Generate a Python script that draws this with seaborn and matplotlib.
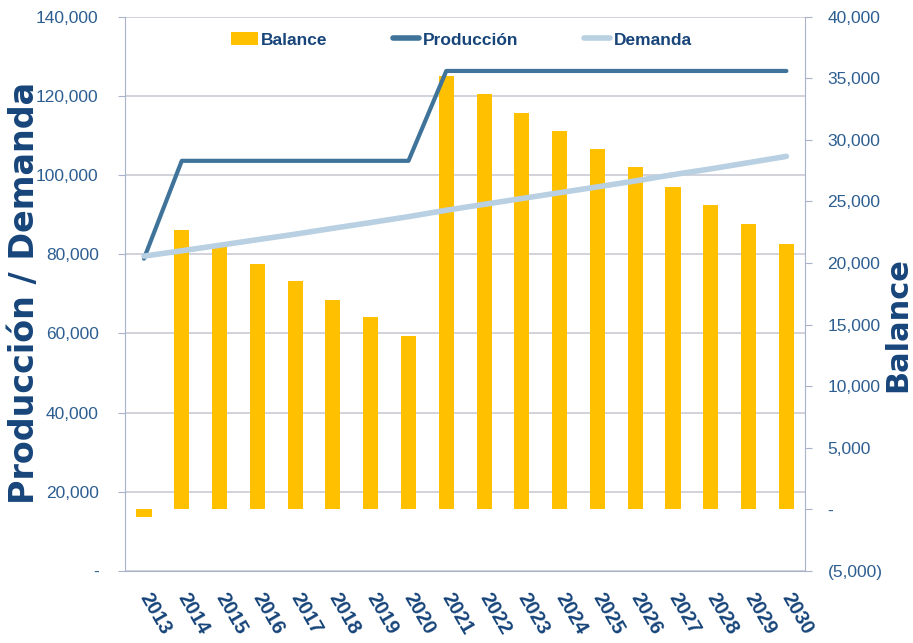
'''Producción / Demanda / Balance chart'''

### IMPORTS ###

import numpy as np
import matplotlib.pyplot as plt
import seaborn as sns
from matplotlib.ticker import FuncFormatter
from matplotlib.patches import Patch
from matplotlib.lines import Line2D

### DATA ###

years = ['2013', '2014', '2015', '2016', '2017', '2018', '2019', '2020', '2021',
         '2022', '2023', '2024', '2025', '2026', '2027', '2028', '2029', '2030']
balance = [-630, 22720, 21330, 19920, 18530, 17040, 15590, 14100, 35180,
           33690, 32220, 30750, 29280, 27780, 26200, 24730, 23160, 21580]
produccion = [78900, 103600, 103600, 103600, 103600, 103600, 103600, 103600, 126300,
              126300, 126300, 126300, 126300, 126300, 126300, 126300, 126300, 126300]
demanda = [79530, 80880, 82270, 83680, 85070, 86560, 88010, 89500, 91120,
           92610, 94080, 95550, 97020, 98520, 100100, 101570, 103140, 104720]

### STYLE ###

sns.set_style('white')
plt.rcParams['font.family'] = ['Liberation Sans', 'DejaVu Sans']

BAR = '#FFC000'
PROD = '#3F7399'
DEM = '#B8D0E2'
GRID = '#C9CBD4'
SPINE = '#A8B2CA'
TICK = '#2D5E91'
TITLE = '#17457A'

def left_fmt(v, p):
    return '-' if v == 0 else f'{v:,.0f}'

def right_fmt(v, p):
    if v == 0:
        return '-'
    if v < 0:
        return f'({-v:,.0f})'
    return f'{v:,.0f}'

### PLOT ###

fig = plt.figure(figsize=(9.13, 6.43), dpi=100)
ax = fig.add_axes([0.137, 0.112, 0.745, 0.862])
ax2 = ax.twinx()
ax3 = ax.twinx()
ax.set_zorder(0)
ax2.set_zorder(1)
ax3.set_zorder(2)
ax2.patch.set_visible(False)
ax3.patch.set_visible(False)

x = np.arange(len(years))

# bars on the right scale
sns.barplot(x=years, y=balance, color=BAR, saturation=1, width=0.4,
            edgecolor='none', ax=ax2)

# lines on the left scale
sns.lineplot(x=x, y=produccion, color=PROD, linewidth=3, ax=ax3)
sns.lineplot(x=x, y=demanda, color=DEM, linewidth=4, ax=ax3)

# left axis
ax.set_ylim(0, 140000)
ax.set_yticks(np.arange(0, 140001, 20000))
ax.yaxis.set_major_formatter(FuncFormatter(left_fmt))
ax.grid(axis='y', color=GRID, linewidth=1.2)
ax.tick_params(axis='y', length=5, color=SPINE, pad=14, labelsize=12.5, labelcolor=TICK)

# right axis
ax2.set_ylim(-5000, 40000)
ax2.set_yticks(np.arange(-5000, 40001, 5000))
ax2.yaxis.set_major_formatter(FuncFormatter(right_fmt))
ax2.tick_params(axis='y', length=5, color=SPINE, pad=11, labelsize=12.5, labelcolor=TICK)
ax2.set_ylabel('')
ax2.set_xlabel('')

ax3.set_ylim(0, 140000)
ax3.yaxis.set_visible(False)

# x axis
for a in (ax, ax2, ax3):
    a.set_xlim(-0.5, len(years) - 0.5)
ax.set_xticks(np.arange(-0.5, len(years), 1))
ax.set_xticklabels([])
ax.set_xticks(x, minor=True)
ax.set_xticklabels(years, minor=True, rotation=-60, ha='left', va='center',
                   rotation_mode='anchor', fontweight='bold', fontsize=14.5, color=TITLE)
ax.tick_params(axis='x', which='major', length=6, color=SPINE)
ax.tick_params(axis='x', which='minor', length=0, pad=17)

for a in (ax, ax2, ax3):
    for s in a.spines.values():
        s.set_visible(False)
ax.spines['left'].set_visible(True)
ax.spines['bottom'].set_visible(True)
ax2.spines['right'].set_visible(True)
for s in ('left', 'bottom'):
    ax.spines[s].set_color(SPINE)
ax2.spines['right'].set_color(SPINE)

# axis titles
fig.text(0.027, 0.544, 'Producción / Demanda', rotation=90, ha='center', va='center',
         fontsize=24, fontweight='bold', color=TITLE, family='DejaVu Sans')
fig.text(0.983, 0.495, 'Balance', rotation=90, ha='center', va='center',
         fontsize=22, fontweight='bold', color=TITLE, family='DejaVu Sans')

# legend
handles = [Patch(facecolor=BAR, edgecolor='none'),
           Line2D([], [], color=PROD, linewidth=4),
           Line2D([], [], color=DEM, linewidth=4)]
ax3.legend(handles, ['Balance', 'Producción', 'Demanda'], loc='center',
           bbox_to_anchor=(0.495, 0.958), ncol=3, frameon=False,
           prop={'weight': 'bold', 'size': 12.5}, labelcolor=TITLE,
           handlelength=1.5, handletextpad=0.2, columnspacing=3.8)

fig.savefig('out.png', dpi=100)
